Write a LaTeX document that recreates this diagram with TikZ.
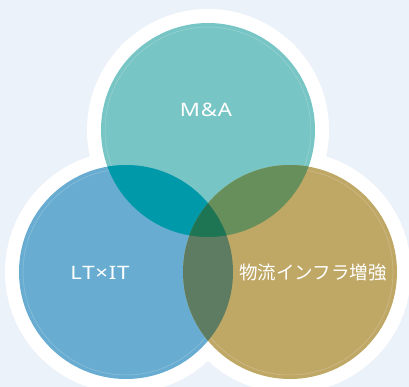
\documentclass[tikz,border=0pt]{standalone}
\usepackage{fontspec}
\newfontfamily\jpfont{Noto Sans CJK JP}
\newfontfamily\lafont[FakeStretch=1.2, LetterSpace=4]{Noto Sans}
\usetikzlibrary{positioning}

\definecolor{bgblue}{HTML}{EBF2F9}
\definecolor{mateal}{HTML}{77C5C4}
\definecolor{ltblue}{HTML}{68ADD1}
\definecolor{infgold}{HTML}{BFA765}
\definecolor{maltmix}{HTML}{0099A9}
\definecolor{mainfmix}{HTML}{668F5B}
\definecolor{ltinfmix}{HTML}{5E7C61}
\definecolor{allmix}{HTML}{1E7554}

\tikzset{
  venn label/.style={text=white, inner sep=0pt},
  inner ring/.style={draw=white, draw opacity=.25, line width=.5pt}
}

\begin{document}
\begin{tikzpicture}[x=1pt, y=-1pt]
  \useasboundingbox (0,0) rectangle (409,387);
  \fill[bgblue] (0,0) rectangle (409,387);

  % centres
  \coordinate (ma) at (208,130);
  \coordinate (lt) at (126,272);
  \coordinate (inf) at (290,272);

  % white outline
  \fill[white] (ma) circle (121pt) (lt) circle (121pt) (inf) circle (121pt);

  % circles
  \fill[mateal] (ma) circle (107pt);
  \path[inner ring] (ma) circle (103pt);
  \fill[ltblue] (lt) circle (107pt);
  \path[inner ring] (lt) circle (103pt);
  \fill[infgold] (inf) circle (107pt);
  \path[inner ring] (inf) circle (103pt);

  % overlaps
  \begin{scope}
    \clip (ma) circle (107pt);
    \fill[maltmix] (lt) circle (107pt);
    \fill[mainfmix] (inf) circle (107pt);
  \end{scope}
  \begin{scope}
    \clip (lt) circle (107pt);
    \fill[ltinfmix] (inf) circle (107pt);
    \clip (inf) circle (107pt);
    \fill[allmix] (ma) circle (107pt);
  \end{scope}

  % labels
  \node[venn label, font=\lafont\fontsize{18.5}{18.5}\selectfont] (malabel) at (206,110) {M\&A};
  \node[venn label, font=\lafont\fontsize{18.5}{18.5}\selectfont] (ltlabel) at (100,273) {LT×IT};
  \node[venn label, font=\jpfont\fontsize{18.5}{18.5}\selectfont] (inflabel) at (313,273) {物流インフラ増強};
\end{tikzpicture}
\end{document}
